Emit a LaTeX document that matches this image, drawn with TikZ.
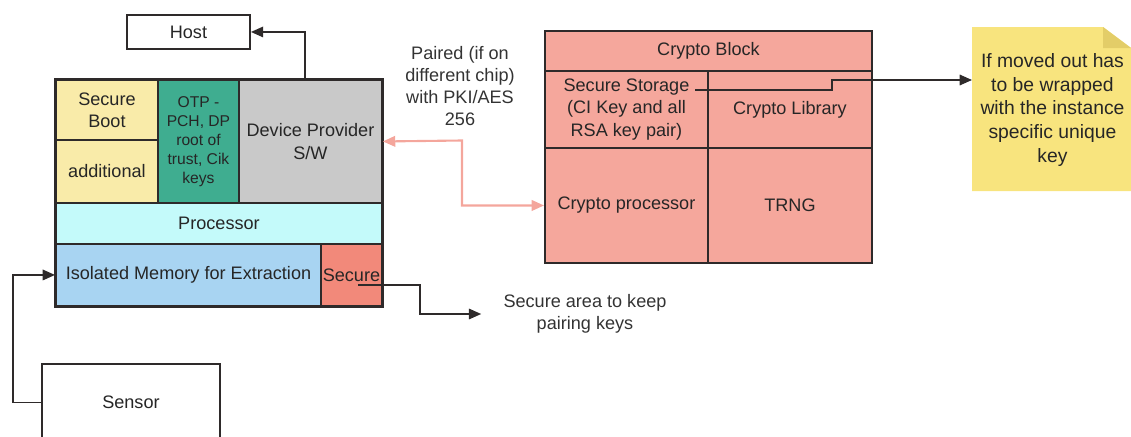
\documentclass[tikz,border=0pt]{standalone}
\usepackage{fontspec}
\setmainfont{Liberation Sans}
\usetikzlibrary{arrows.meta}

\definecolor{bootyellow}{HTML}{F9EBA9}
\definecolor{otpteal}{HTML}{3FAD90}
\definecolor{provgray}{HTML}{C9C9C9}
\definecolor{proccyan}{HTML}{C4FAFA}
\definecolor{memblue}{HTML}{A8D4F2}
\definecolor{securered}{HTML}{F2897A}
\definecolor{cryptopink}{HTML}{F5A79C}
\definecolor{noteyellow}{HTML}{F8E47E}
\definecolor{notefold}{HTML}{E3CD68}
\definecolor{pairpink}{HTML}{F4A69C}
\definecolor{edge}{HTML}{2E2A2A}

\tikzset{
  cell/.style={draw=edge, line width=1.1pt, inner sep=0pt, anchor=north west,
    align=center, text=black!85},
  sz/.style 2 args={minimum width=#1*0.02cm, minimum height=#2*0.02cm},
  wire/.style={draw=edge, line width=0.9pt, -{Triangle[length=7pt,width=6pt]}},
  pairwire/.style={draw=pairpink, line width=1.2pt,
    {Triangle[length=7pt,width=6pt]}-{Triangle[length=7pt,width=6pt]}},
}

\begin{document}
\begin{tikzpicture}[x=0.02cm, y=-0.02cm, font=\fontsize{10.3}{12.6}\selectfont]
\useasboundingbox (0,0) rectangle (1131,436);

% host and sensor
\node[cell, sz={123}{34}, fill=white] (host) at (126,14) {Host};
\node[cell, sz={178}{77}, fill=white] (sensor) at (41,363) {Sensor};

% the chip
\node[cell, sz={102}{60}, fill=bootyellow] (boot) at (55,79) {Secure\\Boot};
\node[cell, sz={102}{63}, fill=bootyellow] (addl) at (55,139) {additional};
\node[cell, sz={81}{123}, fill=otpteal, font=\fontsize{8.9}{10.8}\selectfont] (otp) at (157,79)
  {OTP -\\PCH, DP\\root of\\trust, Cik\\keys};
\node[cell, sz={143}{123}, fill=provgray] (dev) at (238,79) {Device Provider\\S/W};
\node[cell, sz={326}{41}, fill=proccyan] (proc) at (55,202) {Processor};
\node[cell, sz={265}{62}, fill=memblue] (mem) at (55,243) {Isolated Memory for Extraction};
\node[cell, sz={61}{62}, fill=securered] (secure) at (320,243) {Secure};
\draw[edge, line width=1.6pt] (boot.north west) rectangle (secure.south east);

% crypto block
\node[cell, sz={327}{40}, fill=cryptopink] (ctitle) at (544,30) {Crypto Block};
\node[cell, sz={163}{77}, fill=cryptopink] (store) at (544,70) {Secure Storage\\(CI Key and all\\RSA key pair)};
\node[cell, sz={164}{77}, fill=cryptopink] (clib) at (707,70) {Crypto Library};
\node[cell, sz={163}{115}, fill=cryptopink] (cproc) at (544,147) {Crypto processor};
\node[cell, sz={164}{115}, fill=cryptopink] (trng) at (707,147) {TRNG};

% sticky note
\fill[noteyellow] (972,27) -- (1103,27) -- (1131,48) -- (1131,191) -- (972,191) -- cycle;
\fill[notefold] (1103,27) -- (1131,48) -- (1103,48) -- cycle;
\node[cell, draw=none, sz={159}{164}, font=\fontsize{11}{13.6}\selectfont] (note) at (972,27)
  {If moved out has\\to be wrapped\\with the instance\\specific unique\\key};

% labels
\node[align=center, text=black!80] (pairlbl) at (460,86) {Paired (if on\\different chip)\\with PKI/AES\\256};
\node[align=center, text=black!80, inner xsep=12.5pt] (keep) at (585,314) {Secure area to keep\\pairing keys};

% connectors
\coordinate (hostout) at (305,79);
\coordinate (keyout) at (695,90);
\coordinate (secout) at (358,285);
\draw[wire] (hostout) |- (host.east);
\draw[wire] (sensor.west) -- ++(-28,0) |- (mem.west);
\draw[wire] (secout) -- (420,285) |- (keep.west);
\draw[wire] (keyout) -| (832,80) -- (note.west |- 0,80);
\draw[pairwire] (dev.east) -- (462,140.5) |- (cproc.west);
\end{tikzpicture}
\end{document}
